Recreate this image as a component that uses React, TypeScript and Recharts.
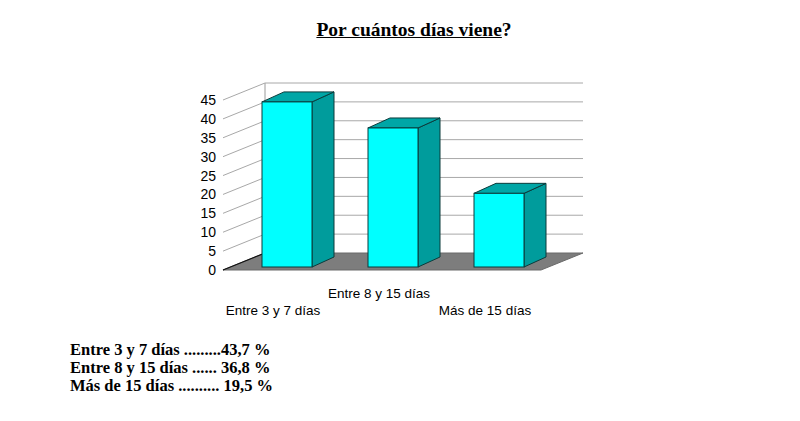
import React from 'react';
import { BarChart, Bar, XAxis, YAxis, CartesianGrid } from 'recharts';

const categories = ['Entre 3 y 7 días', 'Entre 8 y 15 días', 'Más de 15 días'];
const values = [43.7, 36.8, 19.5];
const yTicks = [0, 5, 10, 15, 20, 25, 30, 35, 40, 45];
const summaryLines = [
  'Entre 3 y 7 días .........43,7 %',
  'Entre 8 y 15 días ...... 36,8 %',
  'Más de 15 días .......... 19,5 %',
];
const titleMain = 'Por cuántos días viene';
const titleEnd = '?';

const data = categories.map((c, i) => ({ name: c, value: values[i] }));

const WALL_DX = 42;
const WALL_DY = -17;
const BAR_SX = 11;
const BAR_SY = -3;
const BAR_DX = 22;
const BAR_DY = -10;

const gridLine = (props: any) => {
  const { x1, y1, x2, y, height, index } = props;
  const bottom = y + height;
  const isBottom = Math.abs(y1 - bottom) < 1;
  const parts: React.ReactNode[] = [];
  if (isBottom) {
    parts.push(
      <line key="bl" x1={x1 + WALL_DX} y1={y + WALL_DY} x2={x1 + WALL_DX} y2={bottom + WALL_DY} stroke="#9a9a9a" strokeWidth={1} />
    );
    parts.push(
      <polygon
        key="floor"
        points={`${x1},${bottom} ${x2},${bottom} ${x2 + WALL_DX},${bottom + WALL_DY} ${x1 + WALL_DX},${bottom + WALL_DY}`}
        fill="#7d7d7d"
        stroke="#6a6a6a"
        strokeWidth={1}
      />
    );
    parts.push(
      <line key="fe" x1={x1} y1={bottom} x2={x1 + WALL_DX} y2={bottom + WALL_DY} stroke="#111" strokeWidth={1.2} />
    );
  } else {
    parts.push(
      <line key="d" x1={x1} y1={y1} x2={x1 + WALL_DX} y2={y1 + WALL_DY} stroke="#a8a8a8" strokeWidth={1} />
    );
    parts.push(
      <line key="b" x1={x1 + WALL_DX} y1={y1 + WALL_DY} x2={x2 + WALL_DX} y2={y1 + WALL_DY} stroke="#a8a8a8" strokeWidth={1} />
    );
  }
  return <g key={`gl-${index}`}>{parts}</g>;
};

const Bar3D = (props: any) => {
  const { x, y, width, height } = props;
  const fx = x + BAR_SX;
  const fy = y + BAR_SY;
  const w = width;
  const h = height;
  return (
    <g>
      <polygon
        points={`${fx + w},${fy} ${fx + w + BAR_DX},${fy + BAR_DY} ${fx + w + BAR_DX},${fy + h + BAR_DY} ${fx + w},${fy + h}`}
        fill="#009c9c"
        stroke="#0b3b3b"
        strokeWidth={1}
      />
      <polygon
        points={`${fx},${fy} ${fx + BAR_DX},${fy + BAR_DY} ${fx + w + BAR_DX},${fy + BAR_DY} ${fx + w},${fy}`}
        fill="#00a6a6"
        stroke="#0b3b3b"
        strokeWidth={1}
      />
      <rect x={fx} y={fy} width={w} height={h} fill="#00ffff" stroke="#0b3b3b" strokeWidth={1} />
    </g>
  );
};

const XTick = (props: any) => {
  const { x, y, payload, index } = props;
  const upper = index % 2 === 1;
  return (
    <text
      x={x - 3}
      y={y + (upper ? 20 : 37)}
      textAnchor="middle"
      fontFamily="Liberation Sans, Arial, sans-serif"
      fontSize={13.5}
      fill="#000"
    >
      {payload.value}
    </text>
  );
};

const YTick = (props: any) => {
  const { x, y, payload } = props;
  return (
    <text
      x={x + 1}
      y={y + 5}
      textAnchor="end"
      fontFamily="Liberation Sans, Arial, sans-serif"
      fontSize={14}
      fill="#000"
    >
      {payload.value}
    </text>
  );
};

export default function App() {
  return (
    <div style={{ position: 'absolute', left: 0, top: 0, width: 800, height: 421, background: '#fff', overflow: 'hidden' }}>
      <div
        style={{
          position: 'absolute',
          left: 0,
          width: 828,
          top: 19,
          textAlign: 'center',
          fontFamily: 'Liberation Serif, Times New Roman, serif',
          fontWeight: 'bold',
          fontSize: 19.5,
          lineHeight: '22px',
        }}
      >
        <span style={{ textDecoration: 'underline' }}>{titleMain}</span>
        {titleEnd}
      </div>
      <div style={{ position: 'absolute', left: 0, top: 0 }}>
        <BarChart
          width={800}
          height={421}
          data={data}
          margin={{ top: 100, right: 259, bottom: 101, left: 183 }}
          barSize={50}
        >
          <CartesianGrid horizontal={gridLine} vertical={false} />
          <XAxis dataKey="name" height={50} axisLine={false} tickLine={false} tick={<XTick />} interval={0} />
          <YAxis
            width={40}
            domain={[0, 45]}
            ticks={yTicks}
            axisLine={false}
            tickLine={false}
            tick={<YTick />}
            interval={0}
          />
          <Bar dataKey="value" shape={<Bar3D />} isAnimationActive={false} />
        </BarChart>
      </div>
      <div
        style={{
          position: 'absolute',
          left: 70,
          top: 341,
          fontFamily: 'Liberation Serif, Times New Roman, serif',
          fontWeight: 'bold',
          fontSize: 16.5,
          lineHeight: '18px',
          whiteSpace: 'pre',
        }}
      >
        {summaryLines.map((l, i) => (
          <div key={i}>{l}</div>
        ))}
      </div>
    </div>
  );
}
